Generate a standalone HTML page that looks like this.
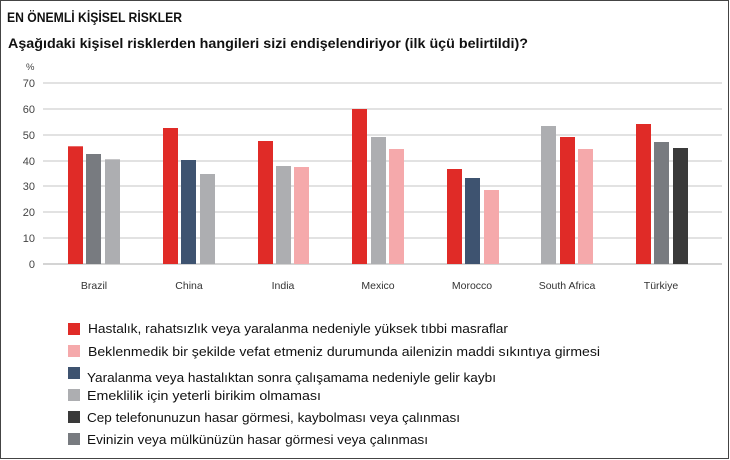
<!DOCTYPE html>
<html><head><meta charset="utf-8"><style>
html,body{margin:0;padding:0;background:#fff}
svg{display:block}
</style></head><body>
<svg width="730" height="460" xmlns="http://www.w3.org/2000/svg" font-family="Liberation Sans, sans-serif">
<rect x="0.5" y="0.5" width="728" height="458" fill="#fff" stroke="#444" stroke-width="1"/>
<text x="7" y="22" font-size="13.5" font-weight="bold" fill="#111" textLength="175" lengthAdjust="spacingAndGlyphs">EN ÖNEMLİ KİŞİSEL RİSKLER</text>
<text x="8" y="48" font-size="13.5" font-weight="bold" fill="#111" textLength="520" lengthAdjust="spacingAndGlyphs">Aşağıdaki kişisel risklerden hangileri sizi endişelendiriyor (ilk üçü belirtildi)?</text>
<text x="26" y="70" font-size="9.5" fill="#444">%</text>
<g stroke="#d0d0d0" stroke-width="1.3">
<line x1="43" x2="722" y1="83" y2="83"/><line x1="43" x2="722" y1="109" y2="109"/>
<line x1="43" x2="722" y1="135" y2="135"/><line x1="43" x2="722" y1="161" y2="161"/>
<line x1="43" x2="722" y1="186" y2="186"/><line x1="43" x2="722" y1="212" y2="212"/>
<line x1="43" x2="722" y1="238" y2="238"/><line x1="43" x2="722" y1="264" y2="264" stroke="#bbb"/>
</g>
<g font-size="11" fill="#444" text-anchor="end">
<text x="35" y="87">70</text><text x="35" y="113">60</text><text x="35" y="139">50</text>
<text x="35" y="165">40</text><text x="35" y="190">30</text><text x="35" y="216">20</text>
<text x="35" y="242">10</text><text x="35" y="268">0</text>
</g>
<g>
<!-- Brazil -->
<rect x="68" y="146.3" width="15" height="117.7" fill="#e02b27"/>
<rect x="86" y="154" width="15" height="110" fill="#787b80"/>
<rect x="105" y="159.3" width="15" height="104.7" fill="#adaeb1"/>
<!-- China -->
<rect x="163" y="128" width="15" height="136" fill="#e02b27"/>
<rect x="181" y="160" width="15" height="104" fill="#3e5370"/>
<rect x="200" y="174" width="15" height="90" fill="#adaeb1"/>
<!-- India -->
<rect x="258" y="141" width="15" height="123" fill="#e02b27"/>
<rect x="276" y="166" width="15" height="98" fill="#adaeb1"/>
<rect x="294" y="167" width="15" height="97" fill="#f5a9ab"/>
<!-- Mexico -->
<rect x="352" y="109" width="15" height="155" fill="#e02b27"/>
<rect x="371" y="137" width="15" height="127" fill="#adaeb1"/>
<rect x="389" y="149" width="15" height="115" fill="#f5a9ab"/>
<!-- Morocco -->
<rect x="447" y="169" width="15" height="95" fill="#e02b27"/>
<rect x="465" y="178" width="15" height="86" fill="#3e5370"/>
<rect x="484" y="190" width="15" height="74" fill="#f5a9ab"/>
<!-- South Africa -->
<rect x="541" y="126" width="15" height="138" fill="#adaeb1"/>
<rect x="560" y="137" width="15" height="127" fill="#e02b27"/>
<rect x="578" y="149" width="15" height="115" fill="#f5a9ab"/>
<!-- Turkiye -->
<rect x="636" y="124" width="15" height="140" fill="#e02b27"/>
<rect x="654" y="142" width="15" height="122" fill="#787b80"/>
<rect x="673" y="148" width="15" height="116" fill="#3a3a3a"/>
</g>
<g font-size="10.5" fill="#333" text-anchor="middle">
<text x="94" y="289">Brazil</text><text x="189" y="289">China</text><text x="283" y="289">India</text>
<text x="378" y="289">Mexico</text><text x="472" y="289">Morocco</text><text x="567" y="289">South Africa</text>
<text x="661" y="289">Türkiye</text>
</g>
<g>
<rect x="68" y="323" width="12" height="12" fill="#e02b27"/>
<rect x="68" y="345" width="12" height="12" fill="#f5a9ab"/>
<rect x="68" y="367" width="12" height="12" fill="#3e5370"/>
<rect x="68" y="389" width="12" height="12" fill="#adaeb1"/>
<rect x="68" y="411" width="12" height="12" fill="#3a3a3a"/>
<rect x="68" y="433" width="12" height="12" fill="#787b80"/>
</g>
<g font-size="13" fill="#111" lengthAdjust="spacingAndGlyphs">
<text x="88" y="333" textLength="420" lengthAdjust="spacingAndGlyphs">Hastalık, rahatsızlık veya yaralanma nedeniyle yüksek tıbbi masraflar</text>
<text x="88" y="356" textLength="512" lengthAdjust="spacingAndGlyphs">Beklenmedik bir şekilde vefat etmeniz durumunda ailenizin maddi sıkıntıya girmesi</text>
<text x="87" y="382" textLength="409" lengthAdjust="spacingAndGlyphs">Yaralanma veya hastalıktan sonra çalışamama nedeniyle gelir kaybı</text>
<text x="87" y="400" textLength="234" lengthAdjust="spacingAndGlyphs">Emeklilik için yeterli birikim olmaması</text>
<text x="87" y="422" textLength="373" lengthAdjust="spacingAndGlyphs">Cep telefonunuzun hasar görmesi, kaybolması veya çalınması</text>
<text x="87" y="444" textLength="341" lengthAdjust="spacingAndGlyphs">Evinizin veya mülkünüzün hasar görmesi veya çalınması</text>
</g>
</svg>
</body></html>
